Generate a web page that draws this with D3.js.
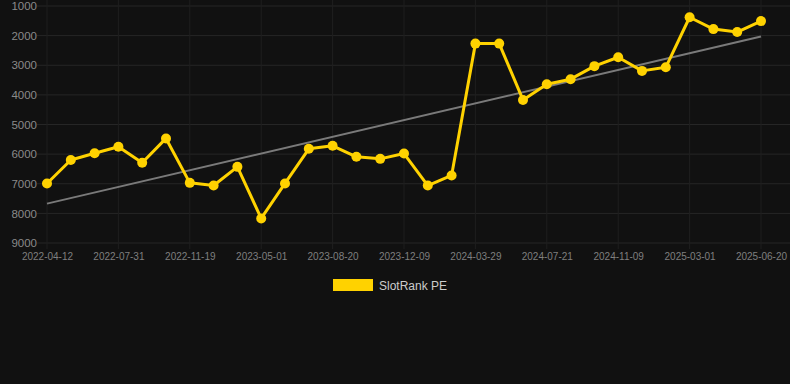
<!DOCTYPE html>
<html><head><meta charset="utf-8">
<script src="https://cdn.jsdelivr.net/npm/d3@7"></script>
<style>
html,body{margin:0;padding:0;background:#111111;}
svg{display:block;font-family:Arial,"Liberation Sans",Helvetica,sans-serif;}
</style></head>
<body>
<script>
const categories = ["2022-04-12","2022-05-19","2022-06-24","2022-07-31","2022-09-06","2022-10-13","2022-11-19","2023-01-11","2023-03-06","2023-05-01","2023-06-06","2023-07-13","2023-08-20","2023-09-25","2023-11-01","2023-12-09","2024-01-14","2024-02-21","2024-03-29","2024-05-05","2024-06-13","2024-07-21","2024-08-26","2024-10-03","2024-11-09","2024-12-16","2025-01-22","2025-03-01","2025-04-06","2025-05-13","2025-06-20"];
const slotRankPE = [6990,6200,5970,5750,6290,5470,6970,7060,6430,8170,6990,5820,5720,6090,6160,5980,7060,6720,2270,2270,4170,3640,3470,3030,2730,3190,3070,1380,1780,1880,1510];
const trendValues = [7670,2030];
const tickLabels = ["2022-04-12","2022-07-31","2022-11-19","2023-05-01","2023-08-20","2023-12-09","2024-03-29","2024-07-21","2024-11-09","2025-03-01","2025-06-20"];
const yTicks = [1000,2000,3000,4000,5000,6000,7000,8000,9000];
const seriesName = "SlotRank PE";

const W = 790, H = 384;
const svg = d3.select("body").append("svg").attr("width", W).attr("height", H);
svg.append("rect").attr("width", W).attr("height", H).attr("fill", "#111111");

const x = d3.scalePoint().domain(categories).range([47, 761]);
const y = d3.scaleLinear().domain([1000, 9000]).range([6, 243]);

// horizontal grid
svg.append("g").selectAll("line").data(yTicks).join("line")
  .attr("x1", 37).attr("x2", W)
  .attr("y1", d => y(d)).attr("y2", d => y(d))
  .attr("stroke", "#262626").attr("stroke-width", 1);
// vertical grid
svg.append("g").selectAll("line").data(tickLabels).join("line")
  .attr("x1", d => x(d)).attr("x2", d => x(d))
  .attr("y1", 0).attr("y2", 249)
  .attr("stroke", "#1f1f1f").attr("stroke-width", 1);

// y axis labels
const yAxis = d3.axisLeft(y).tickValues(yTicks).tickSize(0).tickPadding(0).tickFormat(d3.format("d"));
const gy = svg.append("g").attr("transform", "translate(37,0)").call(yAxis);
gy.select(".domain").remove();
gy.selectAll("text").attr("fill", "#8a8a8a").style("font-size", "11.5px").attr("font-family", "Arial,'Liberation Sans',sans-serif");

// x axis labels
const xAxis = d3.axisBottom(x).tickValues(tickLabels).tickSize(0).tickPadding(0);
const gx = svg.append("g").attr("transform", "translate(0,253)").call(xAxis);
gx.select(".domain").remove();
gx.selectAll("text").attr("fill", "#7f7f7f").style("font-size", "10px").attr("dy", "0.71em").attr("font-family", "Arial,'Liberation Sans',sans-serif");

// trend line
svg.append("line")
  .attr("x1", x(categories[0])).attr("y1", y(trendValues[0]))
  .attr("x2", x(categories[categories.length-1])).attr("y2", y(trendValues[1]))
  .attr("stroke", "#7a7a7a").attr("stroke-width", 2);

const data = categories.map((c, i) => ({c, v: slotRankPE[i]}));
svg.append("path").datum(data)
  .attr("fill", "none").attr("stroke", "#FFD200").attr("stroke-width", 3).attr("stroke-linejoin", "round")
  .attr("d", d3.line().x(d => x(d.c)).y(d => y(d.v)));
svg.append("g").selectAll("circle").data(data).join("circle")
  .attr("cx", d => x(d.c)).attr("cy", d => y(d.v)).attr("r", 5)
  .attr("fill", "#FFD200");

// legend
const lg = svg.append("g");
lg.append("rect").attr("x", 333).attr("y", 279).attr("width", 40).attr("height", 12).attr("fill", "#FFD200");
lg.append("text").attr("x", 379).attr("y", 289.5).text(seriesName)
  .attr("fill", "#cccccc").style("font-size", "12px");
</script>
</body></html>
